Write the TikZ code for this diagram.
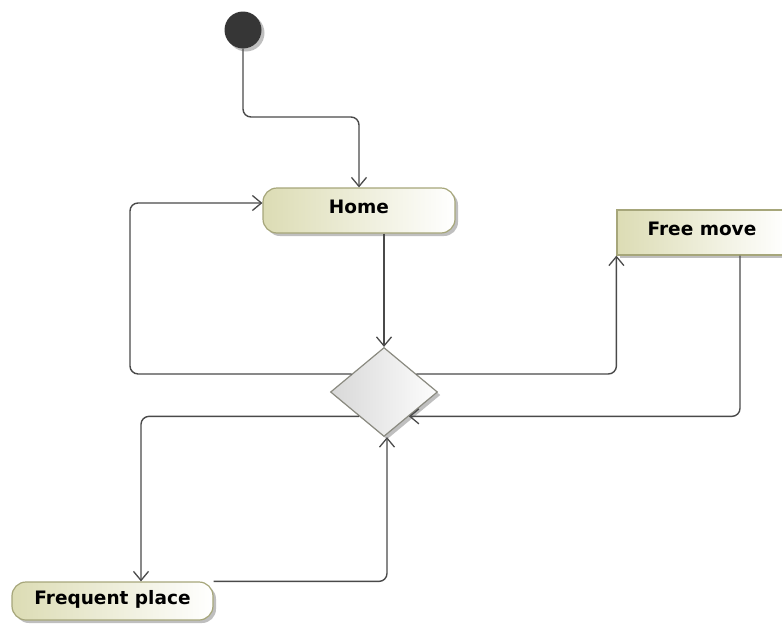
\documentclass[tikz,border=0pt]{standalone}
\usepackage{fontspec}
\setmainfont{DejaVu Sans}
\usetikzlibrary{arrows.meta,shapes.geometric,shadows,calc}
\definecolor{lineC}{HTML}{4A4A4A}
\definecolor{boxL}{HTML}{DCDCB4}
\definecolor{boxB}{HTML}{A6A67A}
\definecolor{decL}{HTML}{D8D8D8}
\definecolor{decB}{HTML}{8A8A80}
\definecolor{startC}{HTML}{363636}
\tikzset{
  shad/.style={drop shadow={shadow xshift=3pt,shadow yshift=-3pt,fill=black,opacity=0.25}},
  actbox/.style={draw=boxB,line width=1.2pt,left color=boxL,right color=white,shad,
    inner sep=0pt,text height=13.5pt,text depth=7pt,
    font=\fontsize{18.5}{22}\selectfont\bfseries,text=black},
  initnode/.style={circle,fill=startC,inner sep=0pt,minimum size=37pt,shad},
  decnode/.style={diamond,draw=decB,line width=1.2pt,left color=decL,right color=white!95!decL,
    inner sep=0pt,minimum width=107pt,minimum height=89pt,shad},
  flow/.style={draw=lineC,line width=1.4pt,rounded corners=8pt,
    -{Straight Barb[length=9pt,width=15pt,line width=1.3pt]}}
}
\begin{document}
\begin{tikzpicture}[x=1pt,y=-1pt]
\clip (0,0) rectangle (782,624);
\fill[white] (0,0) rectangle (782,624);
\node[initnode] (start) at (243,30) {};
\node[actbox,rounded corners=14pt,minimum width=192pt,minimum height=45pt] (home) at (359,210.5) {Home};
\node[actbox,minimum width=170pt,minimum height=45pt] (free) at (702,232.5) {Free move};
\node[actbox,rounded corners=14pt,minimum width=201pt,minimum height=38pt] (freq) at (112.5,601) {Frequent place};
\node[decnode] (dec) at (384,392) {};
\coordinate (k1) at (300,117);
\coordinate (k2) at (130,300);
\draw[flow] (start.south) |- (k1) -| (home.north);
\draw[flow] (home.south -| dec.north) -- (dec.north);
\draw[flow] ($(dec.west)!0.4!(dec.north)$) -| (k2) |- ([yshift=7.5pt]home.west);
\draw[flow] ($(dec.east)!0.4!(dec.north)$) -| (free.south west);
\draw[flow] ([xshift=38pt]free.south) |- ($(dec.east)!0.54!(dec.south)$);
\draw[flow] ($(dec.west)!0.54!(dec.south)$) -| ([xshift=28.5pt]freq.north);
\draw[flow] (freq.north east) -| ([xshift=3pt]dec.south);
\end{tikzpicture}
\end{document}
